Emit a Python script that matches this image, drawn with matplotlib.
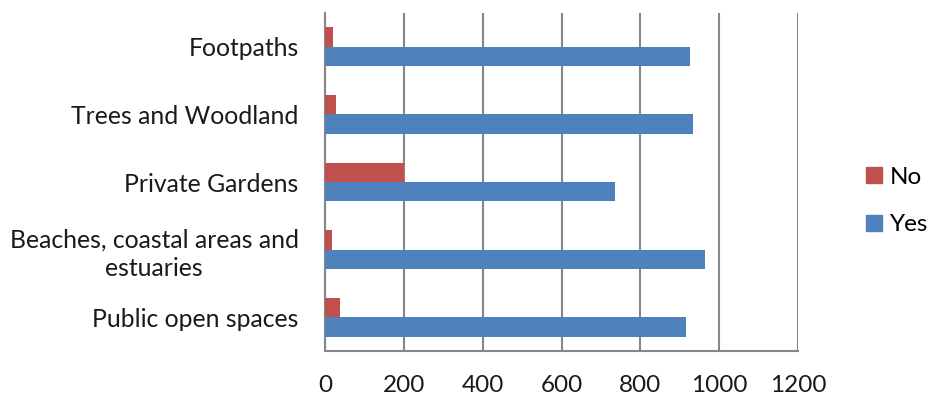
import matplotlib
matplotlib.use("Agg")
import matplotlib.pyplot as plt
from matplotlib.patches import Patch
import numpy as np

plt.rcParams['font.family'] = ['Lato', 'DejaVu Sans']

categories = ["Footpaths", "Trees and Woodland", "Private Gardens",
              "Beaches, coastal areas and\nestuaries", "Public open spaces"]
yes_values = [927, 933, 736, 963, 917]
no_values = [20, 27, 200, 17, 37]
x_ticks = [0, 200, 400, 600, 800, 1000, 1200]

yes_color = "#4F81BD"
no_color = "#C0504D"
grid_color = "#868686"
fs = 17.8

fig = plt.figure(figsize=(9.28, 3.97), dpi=100)
ax = fig.add_axes([325 / 928, 1 - 351 / 397, 473 / 928, 338 / 397])

n = len(categories)
pos = np.arange(n)[::-1]  # first category at the top
h = 1 / 3.5
ax.barh(pos - h / 2, yes_values, height=h, color=yes_color, zorder=3)
ax.barh(pos + h / 2, no_values, height=h, color=no_color, zorder=3)

ax.set_xlim(0, 1200)
ax.set_ylim(-0.5, n - 0.5)
ax.set_xticks(x_ticks)
ax.set_xticklabels([str(t) for t in x_ticks], fontsize=17.5, color="#1a1a1a")
ax.set_yticks(pos)
ax.set_yticklabels(categories, fontsize=fs, ha="right", multialignment="center",
                   linespacing=1.3, color="#1a1a1a")
ax.tick_params(axis="y", length=0, pad=19)
ax.tick_params(axis="x", length=0, pad=17)

ax.grid(axis="x", color=grid_color, linewidth=1.5, zorder=0)
for side in ["top", "right"]:
    ax.spines[side].set_visible(False)
ax.spines["left"].set_color(grid_color)
ax.spines["left"].set_linewidth(1.5)
ax.spines["bottom"].set_color(grid_color)
ax.spines["bottom"].set_linewidth(1.5)

handles = [Patch(color=no_color, label="No"), Patch(color=yes_color, label="Yes")]
fig.legend(handles=handles, loc="center left", bbox_to_anchor=(866 / 928, 1 - 201 / 397),
           frameon=False, fontsize=17.5, handlelength=0.64, handleheight=0.64,
           handletextpad=0.35, labelspacing=1.1, borderpad=0, borderaxespad=0)

fig.savefig("out.png", dpi=100)
